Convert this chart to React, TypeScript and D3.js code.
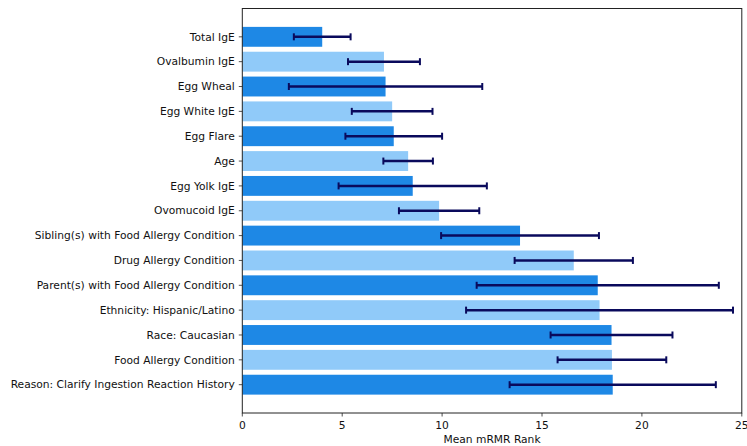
import React from "react";
import * as d3 from "d3";

const features = [
  "Total IgE",
  "Ovalbumin IgE",
  "Egg Wheal",
  "Egg White IgE",
  "Egg Flare",
  "Age",
  "Egg Yolk IgE",
  "Ovomucoid IgE",
  "Sibling(s) with Food Allergy Condition",
  "Drug Allergy Condition",
  "Parent(s) with Food Allergy Condition",
  "Ethnicity: Hispanic/Latino",
  "Race: Caucasian",
  "Food Allergy Condition",
  "Reason: Clarify Ingestion Reaction History",
];
const meanRank = [4.0, 7.09, 7.17, 7.5, 7.58, 8.3, 8.53, 9.85, 13.9, 16.59, 17.79, 17.88, 18.48, 18.5, 18.54];
const errRank = [1.42, 1.8, 4.84, 2.02, 2.42, 1.24, 3.71, 2.01, 3.95, 2.96, 6.06, 6.68, 3.05, 2.72, 5.16];
const xTicks = [0, 5, 10, 15, 20, 25];
const barColors = ["#1E88E5", "#90CAF9"];

export default function App() {
  const W = 747, H = 446;
  const left = 242.3, right = 741.8, top = 8.5, bottom = 413;
  const x = d3.scaleLinear().domain([0, 25]).range([left, right]);
  const n = features.length;
  const y = d3.scaleLinear().domain([-1.14, n - 1 + 1.14]).range([top, bottom]);
  const bh = (y(0.8) - y(0));
  const font = "DejaVu Sans, sans-serif";
  const fs = 10.7;
  const errColor = "#0a0a5c";
  return (
    <svg width={W} height={H} style={{ position: "absolute", left: 0, top: 0 }}>
      <rect x={0} y={0} width={W} height={H} fill="white" />
      {features.map((f, i) => (
        <rect key={"b" + i} x={x(0)} y={y(i) - bh / 2} width={x(meanRank[i]) - x(0)} height={bh} fill={barColors[i % 2]} />
      ))}
      {features.map((f, i) => {
        const x1 = x(meanRank[i] - errRank[i]);
        const x2 = x(meanRank[i] + errRank[i]);
        const yc = y(i);
        return (
          <g key={"e" + i} stroke={errColor}>
            <line x1={x1} x2={x2} y1={yc} y2={yc} strokeWidth={2.5} />
            <line x1={x1} x2={x1} y1={yc - 3.5} y2={yc + 3.5} strokeWidth={2} />
            <line x1={x2} x2={x2} y1={yc - 3.5} y2={yc + 3.5} strokeWidth={2} />
          </g>
        );
      })}
      <rect x={left} y={top} width={right - left} height={bottom - top} fill="none" stroke="#222" strokeWidth={1} />
      {features.map((f, i) => (
        <g key={"t" + i}>
          <line x1={left - 3.5} x2={left} y1={y(i)} y2={y(i)} stroke="#222" strokeWidth={0.8} />
          <text x={left - 7.5} y={y(i)} dy="0.35em" textAnchor="end" fontFamily={font} fontSize={fs} fill="#111">{f}</text>
        </g>
      ))}
      {xTicks.map((t) => (
        <g key={"x" + t}>
          <line x1={x(t)} x2={x(t)} y1={bottom} y2={bottom + 3.5} stroke="#222" strokeWidth={0.8} />
          <text x={x(t)} y={bottom + 15.5} textAnchor="middle" fontFamily={font} fontSize={fs} fill="#111">{t}</text>
        </g>
      ))}
      <text x={(left + right) / 2} y={bottom + 30} textAnchor="middle" fontFamily={font} fontSize={fs} fill="#111">Mean mRMR Rank</text>
    </svg>
  );
}
